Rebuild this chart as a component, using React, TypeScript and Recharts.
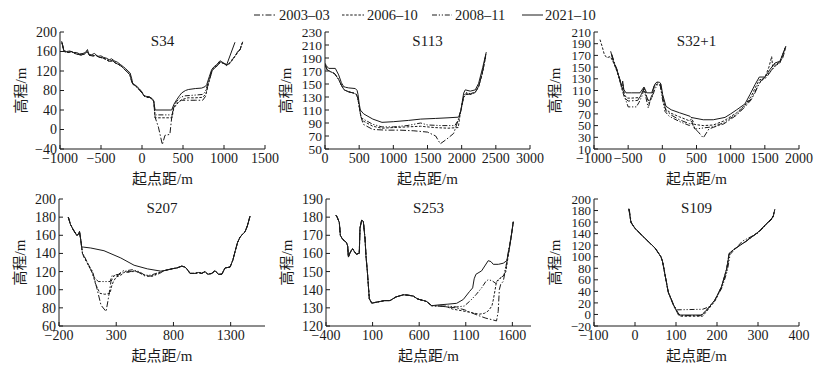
import React from 'react';
import { LineChart, Line, XAxis, YAxis } from 'recharts';

type P = [number, number];

// ---------- legend ----------
const SERIES_NAMES = ['2003–03', '2006–10', '2008–11', '2021–10'];

// ---------- S34 ----------
const S34_bankA: P[] = [[-980,181],[-955,162],[-920,160],[-880,161],[-840,158],[-800,158],[-760,155],[-720,156],[-690,158],[-665,164],[-650,155],[-620,153],[-580,156],[-540,150],[-500,151],[-470,148],[-430,146],[-400,143],[-370,145],[-340,141],[-300,138],[-260,133],[-230,129],[-200,125],[-170,120],[-145,116],[-125,104],[-115,95],[-90,92],[-60,88],[-30,83],[0,77],[20,70],[50,68],[90,67],[120,64],[140,60]];
const S34_bankB: P[] = [[-975,178],[-950,160],[-900,158],[-860,160],[-820,156],[-780,154],[-740,153],[-700,155],[-668,160],[-640,152],[-600,151],[-560,152],[-520,148],[-480,147],[-440,144],[-400,140],[-360,141],[-320,136],[-280,133],[-240,128],[-205,122],[-175,117],[-150,113],[-128,100],[-112,93],[-85,90],[-55,86],[-25,80],[5,74],[25,69],[60,66],[95,66],[125,62],[145,57]];
const S34_2021: P[] = [...S34_bankA,[160,40],[362,40],[390,52],[423,61],[460,70],[484,75],[530,80],[565,82],[650,84],[728,85],[770,88],[789,92],[820,108],[850,123],[880,129],[911,133],[951,141],[990,137],[1033,133],[1134,179]];
const S34_2008: P[] = [...S34_bankB,[158,30],[368,30],[385,48],[420,57],[470,66],[520,69],[600,70],[680,71],[740,72],[775,78],[795,90],[825,107],[852,121],[885,128],[915,131],[955,139],[995,136],[1033,132],[1073,137],[1110,146],[1134,150],[1167,160],[1190,163],[1228,180]];
const S34_2006: P[] = [...S34_bankB,[158,24],[366,24],[388,44],[425,52],[480,61],[560,65],[650,65],[740,66],[780,73],[800,87],[828,105],[855,120],[890,128],[920,131],[958,138],[1000,135],[1035,131],[1075,136],[1112,145],[1136,151],[1170,159],[1195,164],[1225,178]];
const S34_2003: P[] = [...S34_bankB,[160,25],[200,5],[248,-31],[280,-12],[340,-10],[362,24],[385,45],[430,55],[480,60],[560,60],[650,60],[740,60],[775,68],[800,88],[830,106],[855,120],[890,127],[920,131],[958,139],[1000,135],[1035,132],[1075,137],[1112,146],[1136,150],[1170,160],[1195,163],[1228,180]];

// ---------- S113 ----------
const S113_bankA: P[] = [[0,182],[20,178],[54,174],[151,174],[200,164],[240,152],[273,146],[300,145],[346,144],[444,143],[470,140],[483,134],[500,120],[517,110],[566,104]];
const S113_bankB: P[] = [[0,180],[30,172],[80,169],[140,166],[200,157],[240,148],[280,141],[346,138],[420,136],[460,134],[480,128],[500,116],[525,100]];
const S113_2021: P[] = [...S113_bankA,[700,96],[834,91],[1000,92],[1224,94],[1400,96],[1614,97],[1800,98],[1956,99],[1990,110],[2029,136],[2053,141],[2126,139],[2199,141],[2248,151],[2307,175],[2360,199]];
const S113_2008: P[] = [...S113_bankB,[560,96],[700,88],[834,84],[1000,84],[1200,86],[1400,90],[1500,87],[1700,86],[1900,86],[1960,96],[1995,112],[2030,131],[2060,137],[2130,135],[2200,138],[2250,147],[2300,166],[2355,194]];
const S113_2006: P[] = [...S113_bankB,[560,93],[700,85],[834,82],[1000,83],[1200,84],[1400,85],[1600,83],[1800,82],[1950,83],[1980,105],[2020,128],[2060,134],[2130,134],[2200,137],[2250,146],[2300,165],[2350,192]];
const S113_2003: P[] = [...S113_bankB,[560,88],[700,80],[900,79],[1100,79],[1300,78],[1500,76],[1620,70],[1687,58],[1780,65],[1883,74],[1960,98],[1995,112],[2030,130],[2060,135],[2130,134],[2200,137],[2250,147],[2310,170],[2355,196]];

// ---------- S32+1 ----------
const S32_2021: P[] = [[-756,177],[-717,160],[-668,146],[-620,128],[-595,117],[-580,126],[-565,112],[-532,106],[-450,106],[-327,106],[-268,116],[-229,106],[-156,106],[-108,121],[-80,124.5],[-40,124],[-20,121],[5,103],[53,83],[130,77],[250,72],[404,66],[420,64],[599,60],[745,60],[917,64],[1000,70],[1088,77],[1209,87],[1282,103],[1356,120],[1419,133],[1502,133],[1575,146],[1648,157],[1721,160],[1809,186]];
const S32_2006: P[] = [[-912,197],[-880,185],[-850,172],[-814,166],[-760,168],[-717,158],[-668,144],[-620,126],[-590,112],[-575,120],[-555,103],[-520,97],[-450,97],[-330,98],[-290,108],[-268,113],[-235,100],[-200,92],[-160,96],[-120,115],[-80,121],[-30,120],[5,100],[50,78],[130,71],[250,65],[400,58],[430,62],[470,52],[600,50],[745,51],[900,58],[1088,72],[1209,85],[1300,100],[1356,114],[1419,128],[1500,132],[1560,150],[1600,168],[1615,150],[1650,155],[1721,158],[1800,184]];
const S32_2008: P[] = [[-740,170],[-700,156],[-660,143],[-610,122],[-585,110],[-560,100],[-530,92],[-500,82],[-380,82],[-340,90],[-300,100],[-268,112],[-240,98],[-206,80],[-180,92],[-150,98],[-110,112],[-70,120],[-30,118],[0,96],[40,74],[100,66],[250,57],[400,50],[440,55],[480,44],[600,46],[745,48],[900,55],[1088,70],[1200,83],[1300,96],[1356,108],[1419,122],[1480,130],[1560,140],[1650,152],[1721,157],[1800,183]];
const S32_2003: P[] = [[-740,172],[-700,157],[-660,145],[-610,124],[-580,112],[-540,96],[-500,92],[-360,93],[-300,105],[-268,114],[-230,100],[-195,88],[-160,100],[-120,118],[-70,123],[-30,121],[5,98],[50,76],[130,68],[250,60],[400,53],[430,58],[460,46],[520,40],[599,29],[680,44],[745,47],[900,53],[1088,68],[1209,82],[1300,94],[1356,106],[1400,118],[1450,128],[1520,132],[1600,145],[1680,155],[1760,165],[1809,184]];

// ---------- S207 ----------
const S207_left: P[] = [[-119,180],[-100,172],[-75,166],[-45,160],[-30,161],[-21,164],[-10,155],[-2,147]];
const S207_right: P[] = [[718,121],[786,123],[830,124],[873,126],[900,125],[917,123],[945,118],[990,118],[1020,119],[1047,118],[1077,120],[1100,117],[1135,118],[1164,121],[1193,117],[1222,117],[1251,124],[1295,125],[1320,133],[1338,142],[1360,152],[1382,158],[1410,162],[1426,164],[1445,170],[1469,181]];
const S207_2021: P[] = [...S207_left,[12,147],[77,146],[193,143],[340,135],[456,127],[572,123],[689,120.5],...S207_right];
const S207_2003: P[] = [...S207_left,[5,140],[21,135],[60,127],[94,120],[138,98],[167,83],[211,76],[231,90],[254,109],[283,116],[320,117],[362,121],[400,119],[450,121],[500,119],[552,115],[600,115],[639,116],[680,118],...S207_right];
const S207_2006: P[] = [...S207_left,[5,140],[21,136],[60,126],[94,118],[120,106],[158,96],[200,95],[246,96],[260,104],[275,109],[300,114],[340,116],[380,120],[430,120],[480,120],[530,117],[580,115],[620,115],[660,118],...S207_right];
const S207_2008: P[] = [...S207_left,[5,141],[21,137],[86,120],[100,115],[143,109],[246,109],[266,116],[300,115],[345,118],[390,121],[440,122],[500,120],[550,116],[600,116],[650,118],...S207_right];

// ---------- S253 ----------
const S253_left: P[] = [[-293,181],[-280,180],[-257,177],[-246,170],[-225,168],[-203,167],[-180,166],[-167,164],[-160,158],[-145,160],[-125,162],[-113,162.5],[-95,161],[-72,159.5],[-55,160],[-43,160],[-35,174],[-17,178.4],[1,177.5],[19,168],[30,158],[44,150],[55,142],[65,135],[91,132.6],[130,133],[179,133.5],[230,134],[287,134],[350,136],[430,137.2],[480,137],[537,136.5],[580,135],[609,134.5],[650,134],[680,133.5],[734,131.2]];
const S253_2021: P[] = [...S253_left,[823,131.7],[900,132],[1002,132.5],[1073,134.6],[1140,139],[1174,141],[1190,146],[1209,148.5],[1270,150.4],[1341,156],[1370,155.5],[1395,154],[1450,154],[1502,154.6],[1540,156],[1575,165],[1610,177.5]];
const S253_2008: P[] = [...S253_left,[823,131],[900,131],[1000,130.5],[1084,131],[1150,134],[1209,137.2],[1270,141],[1316,144.6],[1341,145.5],[1380,145],[1423,143.5],[1450,145],[1477,146.6],[1510,148],[1540,155],[1575,165],[1610,177.5]];
const S253_2006: P[] = [...S253_left,[823,131],[900,130.5],[960,129.3],[1050,128.5],[1150,127.5],[1245,126.5],[1300,127],[1341,128.3],[1380,131],[1395,134.3],[1415,140],[1430,144.6],[1470,146.5],[1502,147.5],[1530,150],[1560,160],[1590,170],[1610,177.5]];
const S253_2003: P[] = [...S253_left,[823,131],[900,130.5],[1000,130],[1084,129],[1150,127.5],[1250,125.5],[1316,124.3],[1380,123.5],[1430,122.8],[1448,128],[1460,140],[1475,143],[1502,144.6],[1530,152],[1560,162],[1590,170],[1610,177.5]];

// ---------- S109 ----------
const S109_left: P[] = [[-15,183],[-10,160],[0,149],[24,132],[49,115],[63,100],[67,92],[81,39],[95,15]];
const S109_right: P[] = [[211,48],[224,80],[230,106],[240,112],[269,126],[301,143],[337,169],[341,182]];
const S109_2021: P[] = [...S109_left,[106,-1],[163,-1],[179,11],[195,25],...S109_right];
const S109_2008: P[] = [...S109_left,[103,8],[165,9],[180,13],[196,26],[212,46],[225,75],[232,104],[245,114],[262,127],[300,141],[335,166],[340,178]];
const S109_2006: P[] = [...S109_left,[110,-3],[165,-3],[180,10],[196,24],...S109_right];
const S109_2003: P[] = [[-14,182],[-9,158],[2,148],[26,131],[50,114],[64,99],[68,90],[82,36],[96,12],[110,-2],[160,-2],[178,10],[194,24],[210,46],[222,72],[229,104],[242,113],[270,126],[300,142],[334,166],[340,180]];

// ---------- axes ----------
const S34_xTicks = [-1000, -500, 0, 500, 1000, 1500];
const S34_yTicks = [-40, 0, 40, 80, 120, 160, 200];
const S113_xTicks = [0, 500, 1000, 1500, 2000, 2500, 3000];
const S113_yTicks = [50, 70, 90, 110, 130, 150, 170, 190, 210, 230];
const S32_xTicks = [-1000, -500, 0, 500, 1000, 1500, 2000];
const S32_yTicks = [10, 30, 50, 70, 90, 110, 130, 150, 170, 190, 210];
const S207_xTicks = [-200, 300, 800, 1300];
const S207_yTicks = [60, 80, 100, 120, 140, 160, 180, 200];
const S253_xTicks = [-400, 100, 600, 1100, 1600];
const S253_yTicks = [120, 130, 140, 150, 160, 170, 180, 190];
const S109_xTicks = [-100, 0, 100, 200, 300, 400];
const S109_yTicks = [-20, 0, 20, 40, 60, 80, 100, 120, 140, 160, 180, 200];

// ---------- styles ----------
const FONT = '"Liberation Serif", "Times New Roman", Times, "DejaVu Serif", "Noto Sans CJK SC", serif';
const INK = '#1a1a1a';
const DASHES = ['6 2 1.5 2', '2.5 1.6', '5 1.8 1.2 1.8 1.2 1.8', undefined];
const Y_TITLE_GLYPHS = ['高', '程', '/', 'm'];
const Y_TITLE_ADV = [1, 1, 0.28, 0.78];

const rows = (a: P[]) => a.map(([x, y]) => ({ x, y }));
const fmt = (v: number) => (v < 0 ? '\u2212' + Math.abs(v) : String(v));

type PanelProps = {
  left: number; top: number; w: number; h: number; title: string;
  xDomain: [number, number]; xTicks: number[]; yDomain: [number, number]; yTicks: number[];
  series: P[][]; yFont?: number;
};

function YTitle({ cx, cy, size }: { cx: number; cy: number; size: number }) {
  const total = Y_TITLE_ADV.reduce((s, a) => s + a, 0) * size;
  let yy = cy + total / 2;
  const ox = cx + 0.36 * size;
  return (
    <text fontSize={size} fill={INK} style={{ fontFamily: FONT }}>
      {Y_TITLE_GLYPHS.map((g, i) => {
        const el = (
          <tspan key={i} x={ox} y={yy} rotate={-90}>{g}</tspan>
        );
        yy -= Y_TITLE_ADV[i] * size;
        return el;
      })}
    </text>
  );
}

function Panel({ left, top, w, h, title, xDomain, xTicks, yDomain, yTicks, series, yFont = 14 }: PanelProps) {
  const YW = 76, MT = 10, MR = 24, XH = 44;
  const W = YW + w + MR, H = MT + h + XH;
  const xTickStyle = { fill: INK, fontSize: 14, fontFamily: FONT };
  const yTickStyle = { fill: INK, fontSize: yFont, fontFamily: FONT };
  return (
    <div style={{ position: 'absolute', left: left - YW, top: top - MT, width: W, height: H }}>
      <LineChart width={W} height={H} margin={{ top: MT, right: MR, bottom: 0, left: 0 }}>
        <XAxis
          xAxisId="b" type="number" dataKey="x" domain={xDomain} ticks={xTicks} interval={0}
          allowDataOverflow height={XH} tickSize={-4} tickMargin={8} tick={xTickStyle}
          tickFormatter={fmt} axisLine={{ stroke: INK }} tickLine={{ stroke: INK }}
          label={{ value: '起点距/m', position: 'insideTop', offset: 24, style: { fill: INK, fontSize: 15, fontFamily: FONT } }}
        />
        <XAxis
          xAxisId="t" orientation="top" type="number" domain={[0, 1]} height={0}
          tick={false} tickLine={false} axisLine={{ stroke: INK }}
        />
        <YAxis
          yAxisId="l" type="number" domain={yDomain} ticks={yTicks} interval={0} allowDataOverflow
          width={YW} tickSize={-4} tickMargin={7} tick={yTickStyle} tickFormatter={fmt}
          axisLine={{ stroke: INK }} tickLine={{ stroke: INK }}
        />
        <YAxis
          yAxisId="r" orientation="right" type="number" domain={[0, 1]} width={0}
          tick={false} tickLine={false} axisLine={{ stroke: INK }}
        />
        {series.map((s, i) => (
          <Line
            key={i} xAxisId="b" yAxisId="l" data={rows(s)} dataKey="y" type="linear"
            stroke={INK} strokeWidth={1} strokeDasharray={DASHES[i]} dot={false}
            activeDot={false} isAnimationActive={false}
          />
        ))}
      </LineChart>
      <svg width={W} height={H} style={{ position: 'absolute', left: 0, top: 0, pointerEvents: 'none' }}>
        <text x={YW + w / 2} y={MT + 14} textAnchor="middle" fontSize={15} fill={INK} style={{ fontFamily: FONT }}>{title}</text>
        <YTitle cx={YW - 39} cy={MT + h / 2} size={15} />
      </svg>
    </div>
  );
}

const LEGEND_POS = [
  { x1: 254, x2: 277, tx: 279 },
  { x1: 342, x2: 364, tx: 367 },
  { x1: 432, x2: 452, tx: 455 },
  { x1: 522, x2: 543, tx: 545 },
];

export default function App() {
  return (
    <div style={{ position: 'absolute', left: 0, top: 0, width: 823, height: 370, overflow: 'hidden', background: '#fff', fontFamily: FONT }}>
      <style>{`.recharts-wrapper text { font-family: ${FONT}; }`}</style>
      <svg width={823} height={28} style={{ position: 'absolute', left: 0, top: 0 }}>
        {SERIES_NAMES.map((name, i) => (
          <g key={name}>
            <line x1={LEGEND_POS[i].x1} x2={LEGEND_POS[i].x2} y1={15} y2={15} stroke={INK} strokeWidth={1} strokeDasharray={DASHES[i]} />
            <text x={LEGEND_POS[i].tx} y={20} fontSize={14.5} style={{ fontFamily: FONT }} fill={INK}>{name}</text>
          </g>
        ))}
      </svg>
      <Panel left={60} top={32} w={205} h={117} title="S34" xDomain={[-1000, 1500]} xTicks={S34_xTicks} yDomain={[-40, 200]} yTicks={S34_yTicks} series={[S34_2003, S34_2006, S34_2008, S34_2021]} />
      <Panel left={325} top={32} w={205} h={117} title="S113" xDomain={[0, 3000]} xTicks={S113_xTicks} yDomain={[50, 230]} yTicks={S113_yTicks} series={[S113_2003, S113_2006, S113_2008, S113_2021]} yFont={13.5} />
      <Panel left={594} top={32} w={205} h={117} title="S32+1" xDomain={[-1000, 2000]} xTicks={S32_xTicks} yDomain={[10, 210]} yTicks={S32_yTicks} series={[S32_2003, S32_2006, S32_2008, S32_2021]} yFont={13} />
      <Panel left={59} top={199} w={206} h={127} title="S207" xDomain={[-200, 1600]} xTicks={S207_xTicks} yDomain={[60, 200]} yTicks={S207_yTicks} series={[S207_2003, S207_2006, S207_2008, S207_2021]} />
      <Panel left={326} top={199} w={205} h={127} title="S253" xDomain={[-400, 1800]} xTicks={S253_xTicks} yDomain={[120, 190]} yTicks={S253_yTicks} series={[S253_2003, S253_2006, S253_2008, S253_2021]} />
      <Panel left={594} top={199} w={205} h={127} title="S109" xDomain={[-100, 400]} xTicks={S109_xTicks} yDomain={[-20, 200]} yTicks={S109_yTicks} series={[S109_2003, S109_2006, S109_2008, S109_2021]} yFont={13} />
    </div>
  );
}
